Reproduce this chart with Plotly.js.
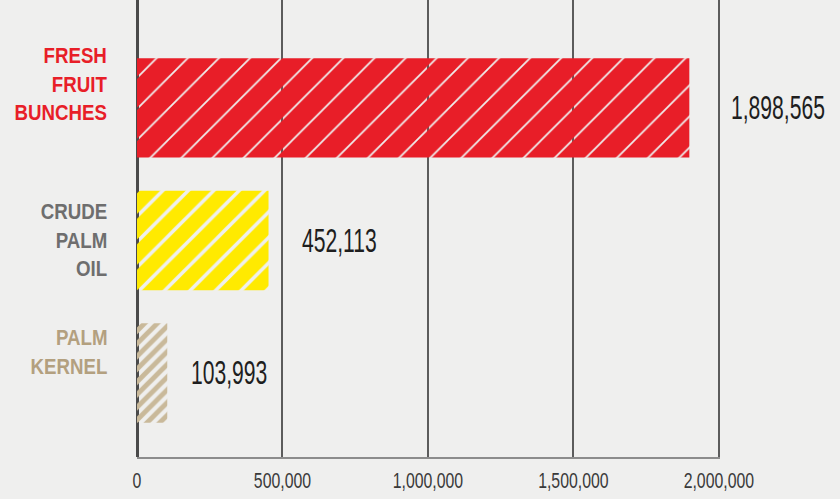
<!DOCTYPE html>
<html>
<head>
<meta charset="utf-8">
<script src="https://cdn.plot.ly/plotly-3.0.1.min.js"></script>
<style>
  html, body { margin: 0; padding: 0; background: #efefee; }
  #chart { width: 840px; height: 499px; }
</style>
</head>
<body>
<div id="chart"></div>
<script>
// Production volumes (tonnes)
const categories = ['FRESH<br>FRUIT<br>BUNCHES', 'CRUDE<br>PALM<br>OIL', 'PALM<br>KERNEL'];
const values = [1898565, 452113, 103993];
const xTicks = [0, 500000, 1000000, 1500000, 2000000];
const xTickText = ['0', '500,000', '1,000,000', '1,500,000', '2,000,000'];

// styling per product
const barColors = ['#e81e28', '#ffea00', '#c9b99a'];
const labelColors = ['#e81e28', '#6e6e6e', '#b3a07f'];
const hatchSize = [22, 18, 9];
const hatchSolidity = [0.92, 0.8, 0.55];
const valueGap = [40, 31, 22];
const labelLift = [24, 0, 21];

const FONT = 'Liberation Sans, Arial, sans-serif';
const fmt = v => v.toLocaleString('en-US');

// one trace per product so each gets its own scribble-like hatch
const traces = categories.map((c, i) => ({
  type: 'bar',
  orientation: 'h',
  y: [i],
  x: [values[i]],
  width: 0.75,
  marker: {
    color: barColors[i],
    line: { width: 0 },
    pattern: {
      shape: '/',
      fillmode: 'replace',
      fgcolor: barColors[i],
      bgcolor: 'rgba(0,0,0,0)',
      size: hatchSize[i],
      solidity: hatchSolidity[i]
    }
  },
  hoverinfo: 'skip',
  showlegend: false
}));

const annotations = [];
categories.forEach((c, i) => {
  annotations.push({
    xref: 'paper', yref: 'y',
    x: 0, y: i, xshift: -28, yshift: labelLift[i],
    xanchor: 'right', yanchor: 'middle', align: 'right',
    text: '<b>' + c + '</b>',
    showarrow: false,
    font: { family: FONT, size: 22, color: labelColors[i] }
  });
  annotations.push({
    xref: 'x', yref: 'y',
    x: values[i], y: i, xshift: valueGap[i],
    xanchor: 'left', yanchor: 'middle',
    text: fmt(values[i]),
    showarrow: false,
    font: { family: FONT, size: 33, color: '#1e1e1e' }
  });
});

const layout = {
  width: 840, height: 499,
  margin: { l: 137, r: 120, t: 0, b: 42 },
  paper_bgcolor: '#efefee',
  plot_bgcolor: '#efefee',
  xaxis: {
    range: [0, 2004000],
    tickvals: xTicks,
    ticktext: xTickText,
    showgrid: true,
    gridcolor: '#5c5c5c',
    gridwidth: 2,
    zeroline: true,
    zerolinecolor: '#4a4a4a',
    zerolinewidth: 3,
    showline: true,
    linecolor: '#8c8c8c',
    linewidth: 2,
    ticks: '',
    ticklabelstandoff: 3,
    tickfont: { family: FONT, size: 22, color: '#3a3a3a' },
    fixedrange: true
  },
  yaxis: {
    range: [2.634, -0.814],
    showticklabels: false,
    showgrid: false,
    zeroline: false,
    ticks: '',
    fixedrange: true
  },
  annotations: annotations
};

// squeeze text horizontally into a condensed look, around a pivot edge
function condense(el, s, pivot) {
  const bb = el.getBBox();
  const px = pivot === 'left' ? bb.x : pivot === 'right' ? bb.x + bb.width : bb.x + bb.width / 2;
  const prev = el.getAttribute('transform') || '';
  el.setAttribute('transform', prev + ' translate(' + px + ',0) scale(' + s + ',1) translate(' + (-px) + ',0)');
}

Plotly.newPlot('chart', traces, layout, { displayModeBar: false, staticPlot: true }).then(gd => {
  const anns = gd.querySelectorAll('.annotation');
  anns.forEach((g, k) => {
    const t = g.querySelector('text.annotation-text');
    if (!t) return;
    if (k % 2 === 0) condense(t, 0.85, 'right');
    else condense(t, 0.64, 'left');
  });
  gd.querySelectorAll('.xtick text').forEach(t => condense(t, 0.72, 'center'));
});
</script>
</body>
</html>
